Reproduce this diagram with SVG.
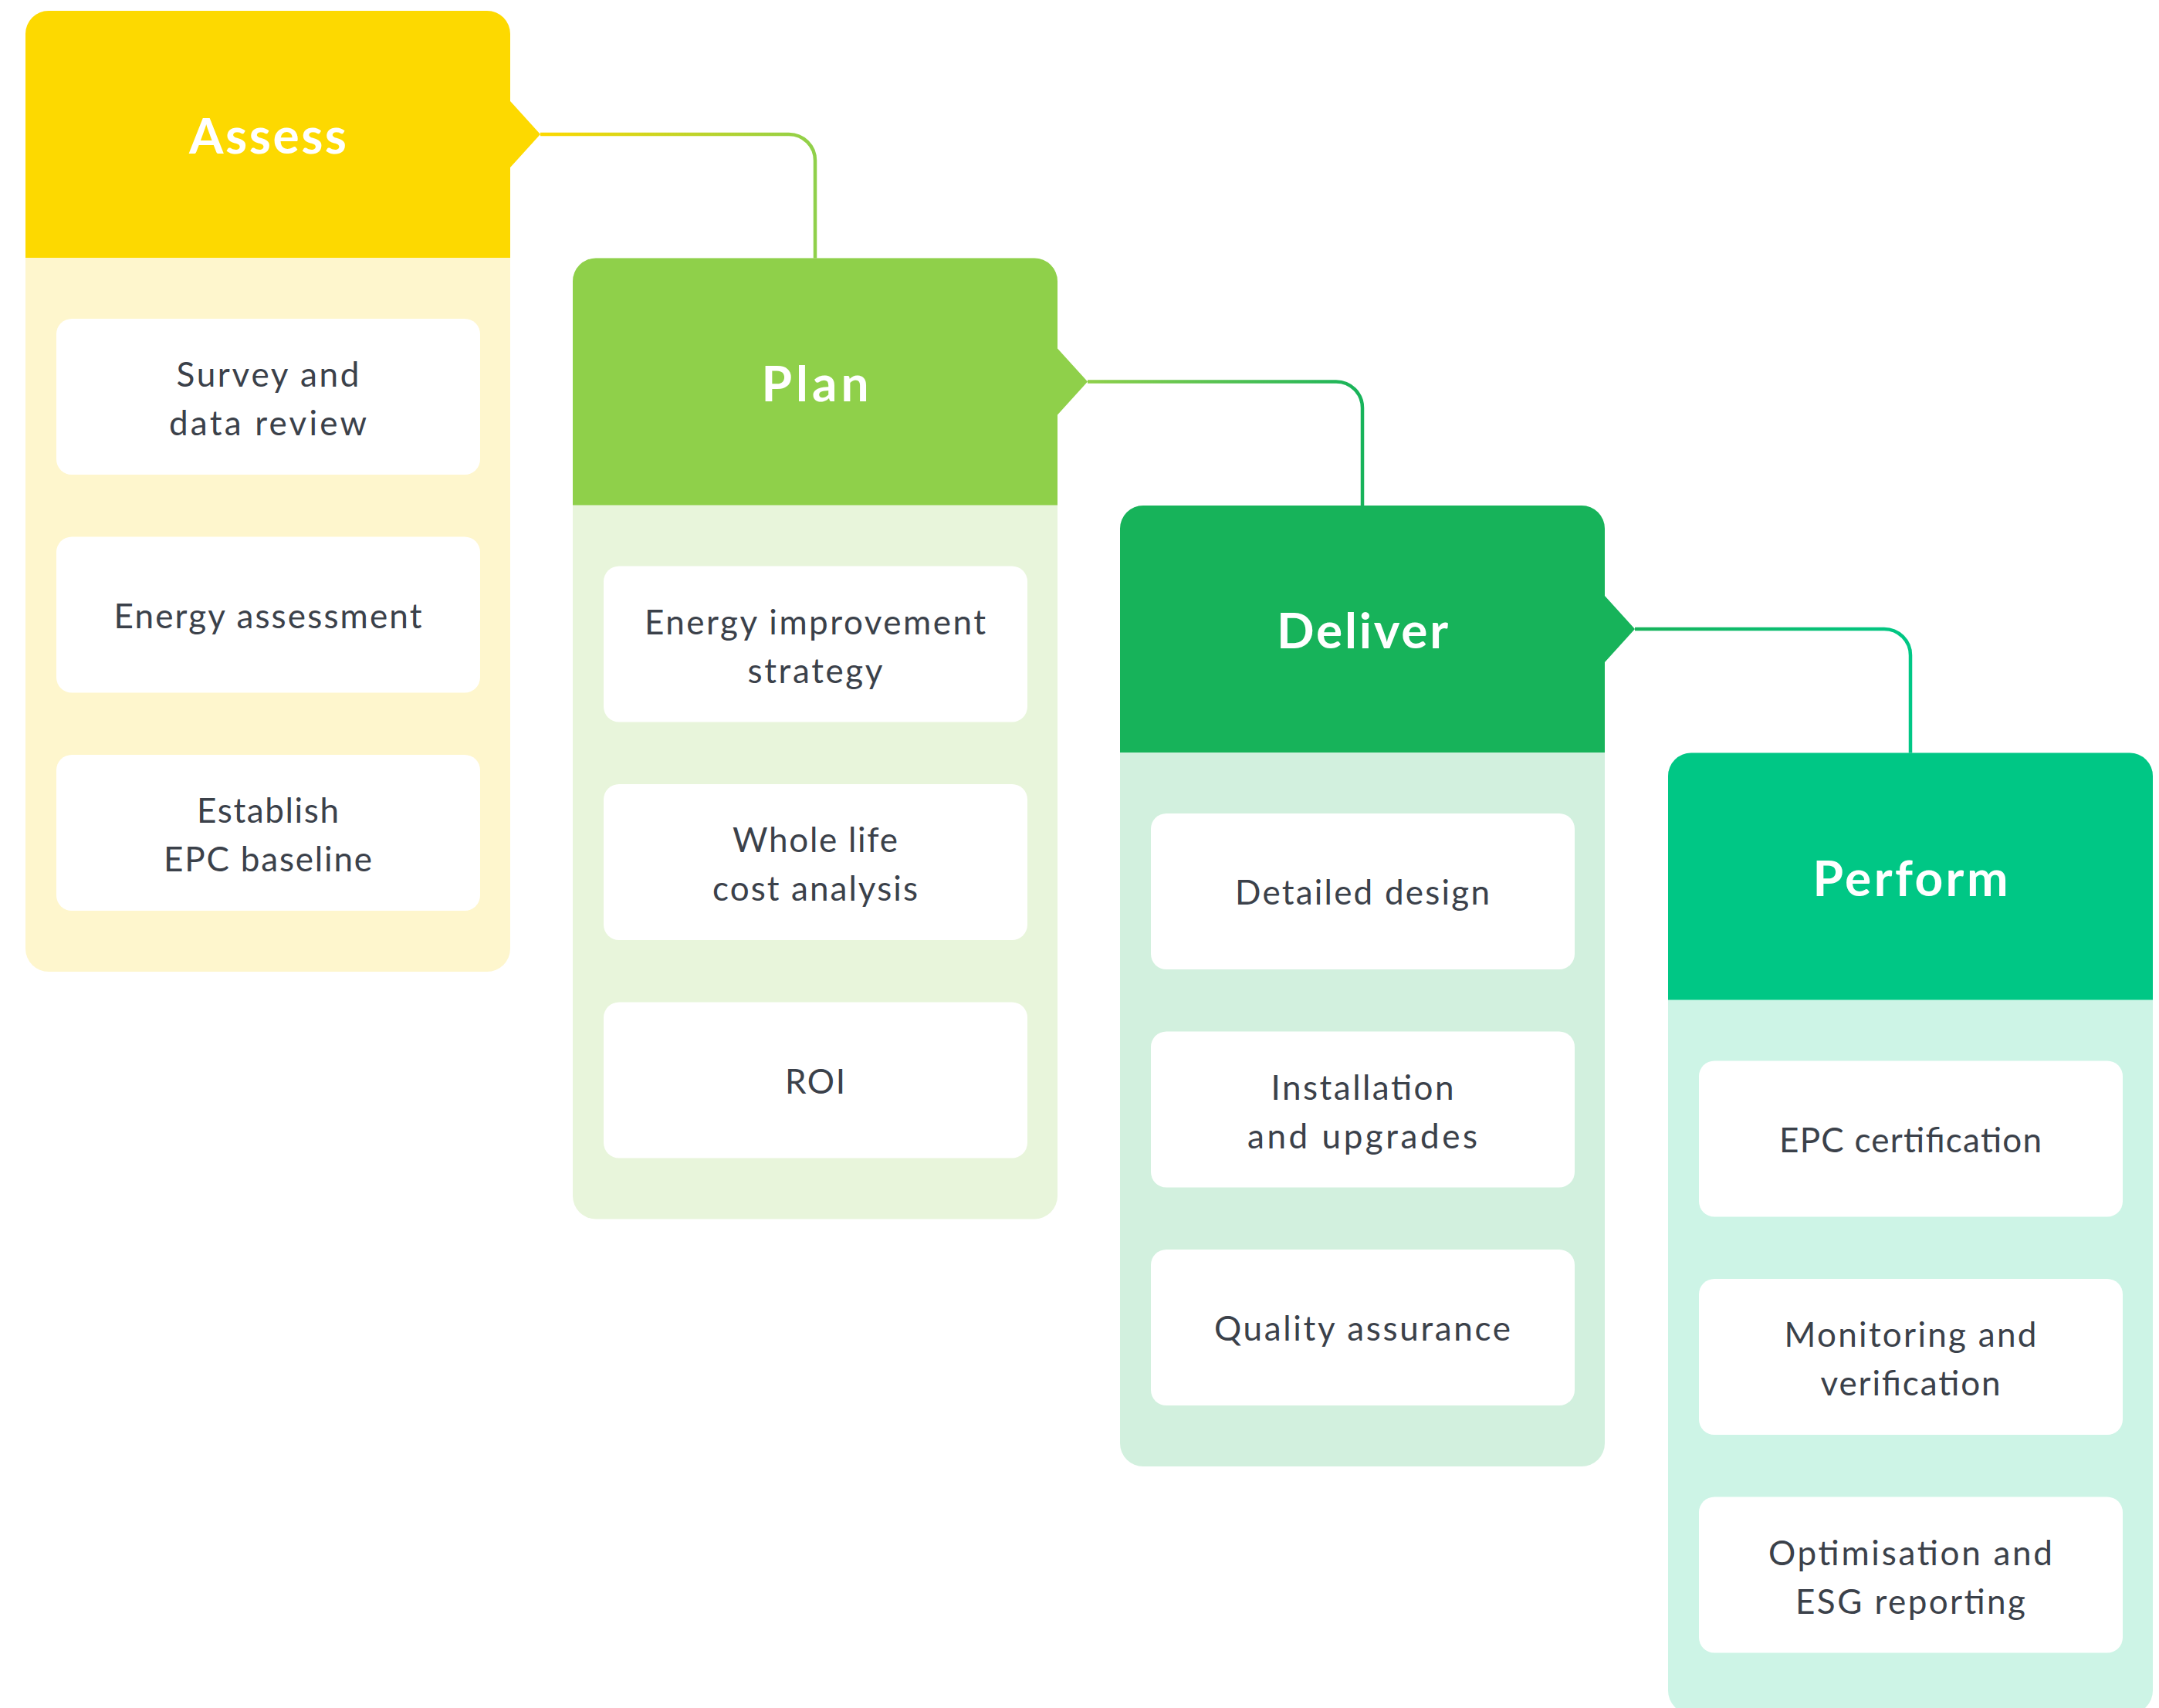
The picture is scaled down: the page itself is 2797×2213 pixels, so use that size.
<svg xmlns="http://www.w3.org/2000/svg" width="2797" height="2213" viewBox="0 0 2797 2213">
<style>
.item{fill:#ffffff}
.t{font-family:Lato,"Liberation Sans",sans-serif;font-size:44px;fill:#3b414a;text-anchor:middle}
.h{font-family:Lato,"Liberation Sans",sans-serif;font-size:64px;font-weight:700;fill:#ffffff;text-anchor:middle}
.c{fill:none;stroke-width:4.5}
</style>
<defs>
<linearGradient id="g1" gradientUnits="userSpaceOnUse" x1="700" y1="0" x2="1056" y2="0"><stop offset="0" stop-color="#FDD900"/><stop offset="1" stop-color="#8FD04A"/></linearGradient>
<linearGradient id="g2" gradientUnits="userSpaceOnUse" x1="1409" y1="0" x2="1765" y2="0"><stop offset="0" stop-color="#8FD04A"/><stop offset="1" stop-color="#17B35A"/></linearGradient>
<linearGradient id="g3" gradientUnits="userSpaceOnUse" x1="2118" y1="0" x2="2475" y2="0"><stop offset="0" stop-color="#17B35A"/><stop offset="1" stop-color="#00C785"/></linearGradient>
</defs>
<rect width="2797" height="2213" fill="#ffffff"/>
<g id="connectors">
<path class="c" stroke="url(#g1)" d="M700,174 H1022 A34,34 0 0 1 1056,208 V336"/>
<path class="c" stroke="url(#g2)" d="M1409,494.5 H1731 A34,34 0 0 1 1765,528.5 V657"/>
<path class="c" stroke="url(#g3)" d="M2118,815 H2441 A34,34 0 0 1 2475,849 V977"/>
</g>
<g id="assess">
<rect x="33" y="14" width="628" height="1245" rx="30" fill="#FEF6CD"/>
<path fill="#FDD900" d="M33,334 V44 A30,30 0 0 1 63,14 H631 A30,30 0 0 1 661,44 V131 L700,174 L661,217 V334 Z"/>
<text class="h" x="347" y="199" textLength="204" lengthAdjust="spacing">Assess</text>
<rect class="item" x="73" y="413" width="549" height="202" rx="20"/>
<text class="t" x="347" y="501" textLength="237" lengthAdjust="spacing">Survey and</text>
<text class="t" x="347" y="564" textLength="256" lengthAdjust="spacing">data review</text>
<rect class="item" x="73" y="695.5" width="549" height="202" rx="20"/>
<text class="t" x="347" y="813.5" textLength="399" lengthAdjust="spacing">Energy assessment</text>
<rect class="item" x="73" y="978" width="549" height="202" rx="20"/>
<text class="t" x="347" y="1066" textLength="184" lengthAdjust="spacing">Establish</text>
<text class="t" x="347" y="1129" textLength="270" lengthAdjust="spacing">EPC baseline</text>
</g>
<g id="plan">
<rect x="742" y="334.5" width="628" height="1245" rx="30" fill="#E8F5DB"/>
<path fill="#8FD04A" d="M742,654.5 V364.5 A30,30 0 0 1 772,334.5 H1340 A30,30 0 0 1 1370,364.5 V451.5 L1409,494.5 L1370,537.5 V654.5 Z"/>
<text class="h" x="1056" y="519.5" textLength="139" lengthAdjust="spacing">Plan</text>
<rect class="item" x="782" y="733.5" width="549" height="202" rx="20"/>
<text class="t" x="1056" y="821.5" textLength="442" lengthAdjust="spacing">Energy improvement</text>
<text class="t" x="1056" y="884.5" textLength="175" lengthAdjust="spacing">strategy</text>
<rect class="item" x="782" y="1016" width="549" height="202" rx="20"/>
<text class="t" x="1056" y="1104" textLength="214" lengthAdjust="spacing">Whole life</text>
<text class="t" x="1056" y="1167" textLength="266" lengthAdjust="spacing">cost analysis</text>
<rect class="item" x="782" y="1298.5" width="549" height="202" rx="20"/>
<text class="t" x="1056" y="1416.5" textLength="78" lengthAdjust="spacing">ROI</text>
</g>
<g id="deliver">
<rect x="1451" y="655" width="628" height="1245" rx="30" fill="#D2F0DE"/>
<path fill="#17B35A" d="M1451,975 V685 A30,30 0 0 1 1481,655 H2049 A30,30 0 0 1 2079,685 V772 L2118,815 L2079,858 V975 Z"/>
<text class="h" x="1765" y="840" textLength="222" lengthAdjust="spacing">Deliver</text>
<rect class="item" x="1491" y="1054" width="549" height="202" rx="20"/>
<text class="t" x="1765" y="1172" textLength="330" lengthAdjust="spacing">Detailed design</text>
<rect class="item" x="1491" y="1336.5" width="549" height="202" rx="20"/>
<text class="t" x="1765" y="1424.5" textLength="237" lengthAdjust="spacing">Installation</text>
<text class="t" x="1765" y="1487.5" textLength="298" lengthAdjust="spacing">and upgrades</text>
<rect class="item" x="1491" y="1619" width="549" height="202" rx="20"/>
<text class="t" x="1765" y="1737" textLength="384" lengthAdjust="spacing">Quality assurance</text>
</g>
<g id="perform">
<rect x="2161" y="975.5" width="628" height="1245" rx="30" fill="#CDF4E6"/>
<path fill="#00C785" d="M2161,1295.5 V1005.5 A30,30 0 0 1 2191,975.5 H2759 A30,30 0 0 1 2789,1005.5 V1295.5 Z"/>
<text class="h" x="2475" y="1160.5" textLength="253" lengthAdjust="spacing">Perform</text>
<rect class="item" x="2201" y="1374.5" width="549" height="202" rx="20"/>
<text class="t" x="2475" y="1492.5" textLength="340" lengthAdjust="spacing">EPC certification</text>
<rect class="item" x="2201" y="1657" width="549" height="202" rx="20"/>
<text class="t" x="2475" y="1745" textLength="327" lengthAdjust="spacing">Monitoring and</text>
<text class="t" x="2475" y="1808" textLength="233" lengthAdjust="spacing">verification</text>
<rect class="item" x="2201" y="1939.5" width="549" height="202" rx="20"/>
<text class="t" x="2475" y="2027.5" textLength="368" lengthAdjust="spacing">Optimisation and</text>
<text class="t" x="2475" y="2090.5" textLength="298" lengthAdjust="spacing">ESG reporting</text>
</g>
</svg>
